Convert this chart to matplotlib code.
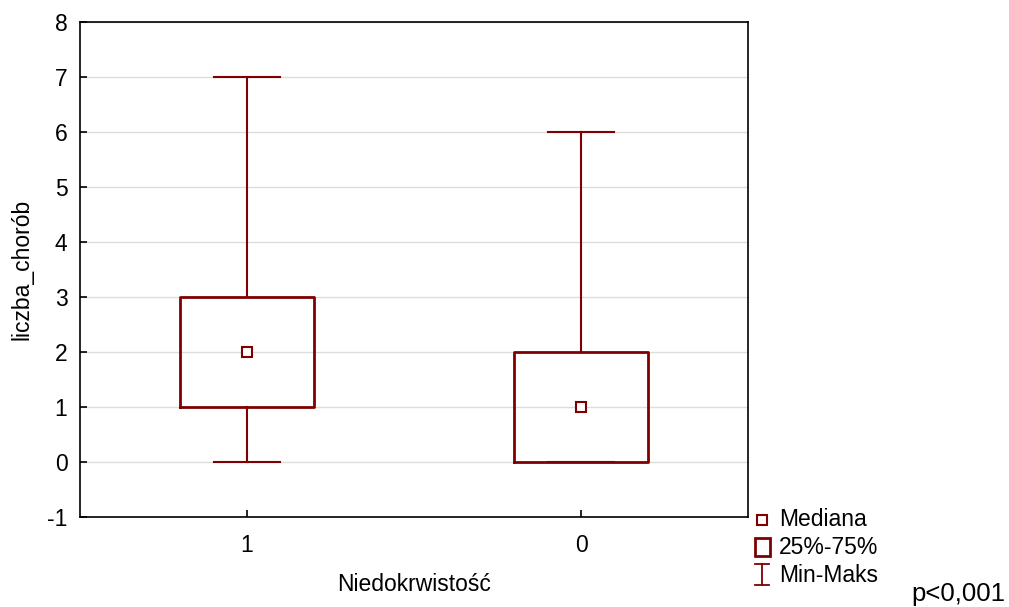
import matplotlib
matplotlib.use("Agg")
import matplotlib.pyplot as plt
from matplotlib.lines import Line2D
from matplotlib.patches import Rectangle

plt.rcParams['font.family'] = ['Liberation Sans', 'DejaVu Sans']
plt.rcParams['axes.unicode_minus'] = False

categories = ["1", "0"]
mins = [0, 0]
q1s = [1, 0]
medians = [2, 1]
q3s = [3, 2]
maxs = [7, 6]
yticks = [-1, 0, 1, 2, 3, 4, 5, 6, 7, 8]

color = "#7f0000"
W, H = 1009, 607
fig = plt.figure(figsize=(W / 100, H / 100), dpi=100)
ax = fig.add_axes([80 / W, 1 - 517 / H, (748 - 80) / W, (517 - 22) / H])

positions = [0.5, 1.5]
stats = []
for c, mn, a, m, b, mx in zip(categories, mins, q1s, medians, q3s, maxs):
    stats.append(dict(label=c, whislo=mn, q1=a, med=m, q3=b, whishi=mx, fliers=[]))

ax.bxp(stats, positions=positions, widths=0.4, capwidths=0.2, showfliers=False,
       boxprops=dict(color=color, linewidth=2.0),
       whiskerprops=dict(color=color, linewidth=1.5),
       capprops=dict(color=color, linewidth=1.5),
       medianprops=dict(linewidth=0), manage_ticks=False, zorder=3)
ax.plot(positions, medians, linestyle='none', marker='s', markersize=7.5,
        markerfacecolor='white', markeredgecolor=color, markeredgewidth=1.5, zorder=4)

ax.set_xlim(0, 2)
ax.set_ylim(-1, 8)
ax.set_yticks(yticks)
ax.set_xticks(positions)
ax.set_xticklabels(categories)
ax.yaxis.grid(True, color='#dcdcdc', linewidth=1)
ax.set_axisbelow(True)
ax.tick_params(direction='in', length=5, width=1.2, labelsize=16.5, colors='black')
ax.tick_params(axis='x', pad=12)
ax.tick_params(axis='y', pad=9)
for s in ax.spines.values():
    s.set_linewidth(1.2)
    s.set_color('black')

ax.set_xlabel("Niedokrwistość", fontsize=16.5, labelpad=12)
ax.set_ylabel("liczba_chorób", fontsize=16.5, labelpad=10)

# Legend drawn in figure pixel coordinates
def fx(x):
    return x / W

def fy(y):
    return 1 - y / H

fig.add_artist(Line2D([fx(762)], [fy(520)], marker='s', markersize=7, linestyle='none',
                      markerfacecolor='white', markeredgecolor=color, markeredgewidth=1.5))
fig.add_artist(Rectangle((fx(755), fy(556)), 15 / W, 18 / H, transform=fig.transFigure,
                         facecolor='white', edgecolor=color, linewidth=2))
fig.add_artist(Line2D([fx(762), fx(762)], [fy(564), fy(585)], color=color, linewidth=1.3))
fig.add_artist(Line2D([fx(755), fx(769)], [fy(564), fy(564)], color=color, linewidth=1.3))
fig.add_artist(Line2D([fx(755), fx(769)], [fy(585), fy(585)], color=color, linewidth=1.3))
fig.text(fx(779), fy(520), "Mediana", fontsize=16.5, va='center', ha='left')
fig.text(fx(779), fy(547), "25%-75%", fontsize=16.5, va='center', ha='left')
fig.text(fx(779), fy(575), "Min-Maks", fontsize=16.5, va='center', ha='left')
fig.text(fx(1005), fy(594), "p<0,001", fontsize=18.5, va='center', ha='right')

fig.savefig("out.png", dpi=100)
